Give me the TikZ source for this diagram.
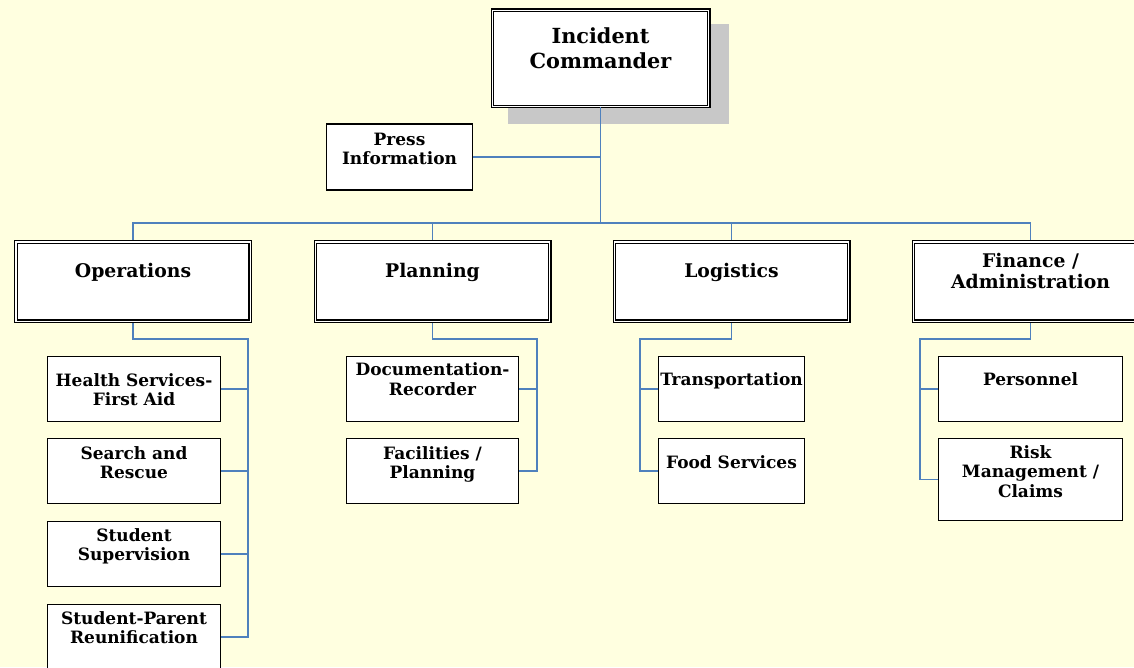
\documentclass[tikz,border=0pt]{standalone}
\usepackage{fontspec}
\setmainfont{DejaVu Serif}
\definecolor{bgyellow}{HTML}{FFFFE0}
\definecolor{connblue}{HTML}{4F81BD}
\definecolor{shadowgray}{HTML}{C8C8C8}
\pgfdeclarelayer{back}
\pgfdeclarelayer{bg}
\pgfsetlayers{back,bg,main}
\tikzset{
  headbox/.style={draw=black, double=white, line width=1.2pt, double distance=1.3pt, fill=white, inner sep=0pt, minimum width=234.3pt, minimum height=79.3pt},
  subbox/.style={draw=black, line width=1.3pt, fill=white, inner sep=0pt},
  conn/.style={draw=connblue, line width=1.5pt},
  cmdtext/.style={anchor=north, inner sep=0pt, align=center, font=\bfseries\fontsize{20.8pt}{25pt}\selectfont},
  headtext/.style={anchor=north, inner sep=0pt, align=center, font=\bfseries\fontsize{18.8pt}{21.5pt}\selectfont},
  subtext/.style={anchor=north, inner sep=0pt, align=center, font=\bfseries\fontsize{17pt}{19.5pt}\selectfont},
}
\begin{document}
\begin{tikzpicture}[x=1pt,y=-1pt]
\useasboundingbox (0,0) rectangle (1134,667);
\clip (0,0) rectangle (1134,667);
\begin{pgfonlayer}{back}
\fill[bgyellow] (0,0) rectangle (1134,667);
\end{pgfonlayer}

% shadow and commander
\node[fill=shadowgray, inner sep=0pt, minimum width=221pt, minimum height=100pt] (shadow) at (618.8,74.3) {};
\node[headbox, minimum width=216.3pt, minimum height=96.3pt] (cmd) at (600.5,58.3) {};
\node[cmdtext] (cmdt) at (600.5,27) {Incident\\Commander};

% press
\node[subbox, minimum width=146pt, minimum height=66pt] (press) at (399.5,157) {};
\node[subtext] (presst) at (399.5,132.7) {Press\\Information};

% headers
\node[headbox] (ops) at (133,281.5) {};
\node[headbox] (plan) at (432.5,281.5) {};
\node[headbox] (log) at (731.5,281.5) {};
\node[headbox] (fin) at (1030.5,281.5) {};
\node[headtext] (opst) at (133,262.7) {Operations};
\node[headtext] (plant) at (432.5,262.7) {Planning};
\node[headtext] (logt) at (731.5,262.7) {Logistics};
\node[headtext] (fint) at (1030.5,253) {Finance /\\Administration};

% operations children
\node[subbox, minimum width=173pt, minimum height=65pt] (health) at (134,389) {};
\node[subbox, minimum width=173pt, minimum height=65pt] (search) at (134,471) {};
\node[subbox, minimum width=173pt, minimum height=65pt] (superv) at (134,554) {};
\node[subbox, minimum width=173pt, minimum height=65pt] (reunif) at (134,637) {};
\node[subtext] (healtht) at (134,373) {Health Services-\\First Aid};
\node[subtext] (searcht) at (134,446) {Search and\\Rescue};
\node[subtext] (supervt) at (134,528) {Student\\Supervision};
\node[subtext] (reunift) at (134,611) {Student-Parent\\Reunification};

% planning children
\node[subbox, minimum width=172pt, minimum height=65pt] (doc) at (432.5,389) {};
\node[subbox, minimum width=172pt, minimum height=65pt] (facil) at (432.5,471) {};
\node[subtext] (doct) at (432.5,362.7) {Documentation-\\Recorder};
\node[subtext] (facilt) at (432.5,446) {Facilities /\\Planning};

% logistics children
\node[subbox, minimum width=146pt, minimum height=65pt] (trans) at (731.5,389) {};
\node[subbox, minimum width=146pt, minimum height=65pt] (food) at (731.5,471) {};
\node[subtext] (transt) at (731.5,372.7) {Transportation};
\node[subtext] (foodt) at (731.5,455) {Food Services};

% finance children
\node[subbox, minimum width=184pt, minimum height=65pt] (pers) at (1030.5,389) {};
\node[subbox, minimum width=184pt, minimum height=82pt] (risk) at (1030.5,479.5) {};
\node[subtext] (perst) at (1030.5,372.7) {Personnel};
\node[subtext] (riskt) at (1030.5,445) {Risk\\Management /\\Claims};

\coordinate (bus) at (600.5,223);
\coordinate (opsturn) at (248,339);
\coordinate (planturn) at (537,339);
\coordinate (logturn) at (640,339);
\coordinate (finturn) at (920,339);

% commander connector drawn over the shadow
\draw[conn] (cmd.south) -- (bus);

\begin{pgfonlayer}{bg}
\draw[conn] (press.east) -- (press.east -| bus);
\draw[conn] (ops.north) |- (bus) -| (fin.north);
\draw[conn] (plan.north) -- (plan.north |- bus);
\draw[conn] (log.north) -- (log.north |- bus);

\draw[conn] (ops.south) |- (opsturn) |- (reunif.east);
\draw[conn] (health.east) -- (health.east -| opsturn);
\draw[conn] (search.east) -- (search.east -| opsturn);
\draw[conn] (superv.east) -- (superv.east -| opsturn);

\draw[conn] (plan.south) |- (planturn) |- (facil.east);
\draw[conn] (doc.east) -- (doc.east -| planturn);

\draw[conn] (log.south) |- (logturn) |- (food.west);
\draw[conn] (trans.west) -- (trans.west -| logturn);

\draw[conn] (fin.south) |- (finturn) |- (risk.west);
\draw[conn] (pers.west) -- (pers.west -| finturn);
\end{pgfonlayer}
\end{tikzpicture}
\end{document}
